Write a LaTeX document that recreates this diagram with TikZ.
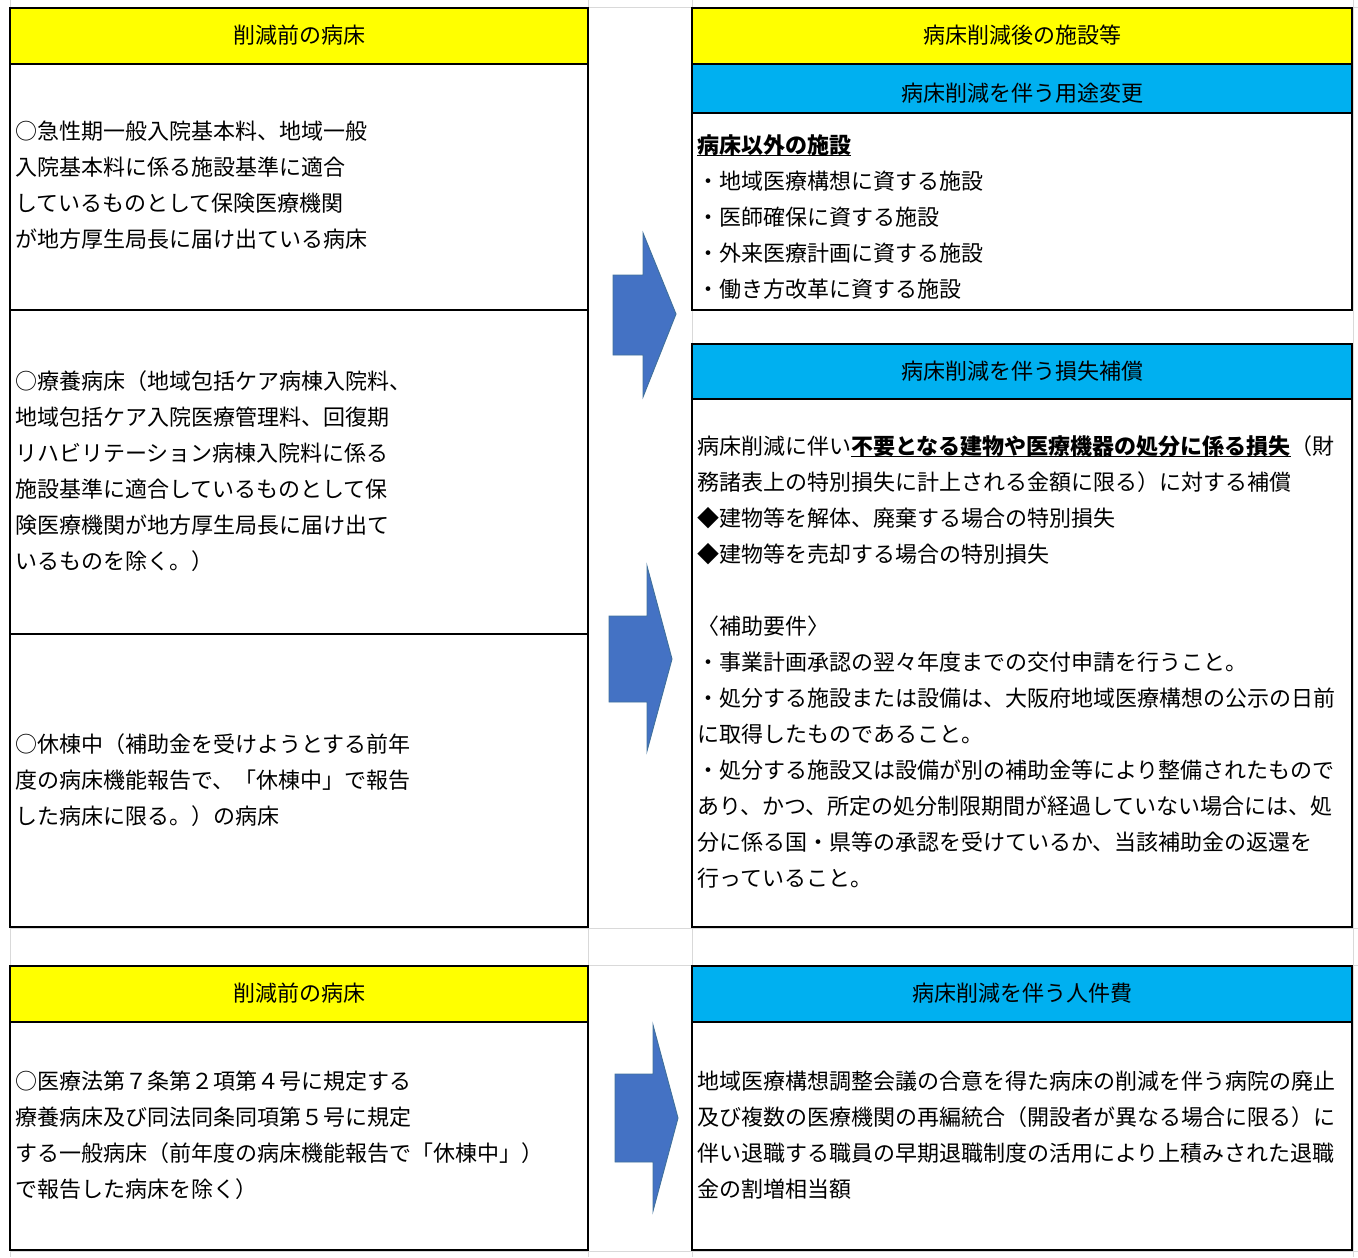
\documentclass[tikz,border=0pt]{standalone}
\usepackage{fontspec}
\setmainfont{Noto Sans CJK JP}
\definecolor{hdryellow}{HTML}{FFFF00}
\definecolor{hdrcyan}{HTML}{00B0F0}
\definecolor{arrowblue}{HTML}{4472C4}
\definecolor{arrowedge}{HTML}{41719C}
\definecolor{gridgray}{HTML}{D9D9D9}
\newcommand\ulbold[1]{\setbox0\hbox{\bfseries #1}\rlap{\rule[-2.4pt]{\wd0}{1.1pt}}\box0}
\begin{document}
\begin{tikzpicture}[x=0.75pt,y=-0.75pt,
  box/.style={draw=black,line width=2pt},
  gridline/.style={draw=gridgray,line width=0.75pt},
  txt/.style={anchor=base west,inner sep=0pt,font=\fontsize{16.5}{20}\selectfont},
  hdr/.style={anchor=base,inner sep=0pt,font=\fontsize{16.5}{20}\selectfont},
  arr/.style={fill=arrowblue,draw=arrowedge,line width=0.7pt,line join=miter}]
\useasboundingbox (0,0) rectangle (1358,1257);
% spreadsheet grid lines
\foreach \gx in {10,588,692,1353} \draw[gridline] (\gx,0) -- (\gx,1257);
\foreach \gy in {7,928,965,1251} \draw[gridline] (10,\gy) -- (1358,\gy);
% ---------- left upper column ----------
\fill[white] (10,8) rectangle (588,927);
\fill[hdryellow] (10,8) rectangle (588,64);
\draw[box] (10,8) rectangle (588,927);
\draw[box] (10,64) -- (588,64);
\draw[box] (10,310) -- (588,310);
\draw[box] (10,634) -- (588,634);
% ---------- right upper column ----------
\fill[white] (692,8) rectangle (1352,310);
\fill[hdryellow] (692,8) rectangle (1352,64);
\fill[hdrcyan] (692,64) rectangle (1352,113);
\draw[box] (692,8) rectangle (1352,310);
\draw[box] (692,64) -- (1352,64);
\draw[box] (692,113) -- (1352,113);
\fill[white] (692,344) rectangle (1352,927);
\fill[hdrcyan] (692,344) rectangle (1352,399);
\draw[box] (692,344) rectangle (1352,927);
\draw[box] (692,399) -- (1352,399);
% ---------- bottom ----------
\fill[white] (10,966) rectangle (588,1250);
\fill[hdryellow] (10,966) rectangle (588,1022);
\draw[box] (10,966) rectangle (588,1250);
\draw[box] (10,1022) -- (588,1022);
\fill[white] (692,966) rectangle (1352,1250);
\fill[hdrcyan] (692,966) rectangle (1352,1022);
\draw[box] (692,966) rectangle (1352,1250);
\draw[box] (692,1022) -- (1352,1022);
% ---------- arrows ----------
\draw[arr] (613,275) -- (643,275) -- (643,233) -- (676,314) -- (643,397) -- (643,355) -- (613,355) -- cycle;
\draw[arr] (609,616) -- (647,616) -- (647,566) -- (672,659) -- (647,751) -- (647,702) -- (609,702) -- cycle;
\draw[arr] (615,1074) -- (653,1074) -- (653,1025) -- (678,1118) -- (653,1211) -- (653,1162) -- (615,1162) -- cycle;
% ---------- headers ----------
\node[hdr] (hL1) at (299,43) {削減前の病床};
\node[hdr] (hR1) at (1022,43) {病床削減後の施設等};
\node[hdr] (hR2) at (1022,101) {病床削減を伴う用途変更};
\node[hdr] (hR3) at (1022,379) {病床削減を伴う損失補償};
\node[hdr] (hL2) at (299,1001) {削減前の病床};
\node[hdr] (hR4) at (1022,1001) {病床削減を伴う人件費};
% ---------- left texts ----------
\foreach \t [count=\i from 0] in {○急性期一般入院基本料、地域一般,入院基本料に係る施設基準に適合,しているものとして保険医療機関,が地方厚生局長に届け出ている病床}
  \node[txt] (la\i) at (15,139+36*\i) {\t};
\foreach \t [count=\i from 0] in {○療養病床（地域包括ケア病棟入院料、,地域包括ケア入院医療管理料、回復期,リハビリテーション病棟入院料に係る,施設基準に適合しているものとして保,険医療機関が地方厚生局長に届け出て,いるものを除く。）}
  \node[txt] (lb\i) at (15,389+36*\i) {\t};
\foreach \t [count=\i from 0] in {○休棟中（補助金を受けようとする前年,度の病床機能報告で、「休棟中」で報告,した病床に限る。）の病床}
  \node[txt] (lc\i) at (15,752+36*\i) {\t};
\foreach \t [count=\i from 0] in {○医療法第７条第２項第４号に規定する,療養病床及び同法同条同項第５号に規定,する一般病床（前年度の病床機能報告で「休棟中」）,で報告した病床を除く）}
  \node[txt] (ld\i) at (15,1089+36*\i) {\t};
% ---------- right texts ----------
\node[txt] (ra0) at (697,153) {\ulbold{病床以外の施設}};
\foreach \t [count=\i from 1] in {・地域医療構想に資する施設,・医師確保に資する施設,・外来医療計画に資する施設,・働き方改革に資する施設}
  \node[txt] (ra\i) at (697,153+36*\i) {\t};
\foreach \t [count=\i from 0] in {{病床削減に伴い\ulbold{不要となる建物や医療機器の処分に係る損失}（財},務諸表上の特別損失に計上される金額に限る）に対する補償,◆建物等を解体、廃棄する場合の特別損失,◆建物等を売却する場合の特別損失}
  \node[txt] (rb\i) at (697,454+36*\i) {\t};
\foreach \t [count=\i from 0] in {〈補助要件〉,・事業計画承認の翌々年度までの交付申請を行うこと。,・処分する施設または設備は、大阪府地域医療構想の公示の日前,に取得したものであること。,・処分する施設又は設備が別の補助金等により整備されたもので,あり、かつ、所定の処分制限期間が経過していない場合には、処,分に係る国・県等の承認を受けているか、当該補助金の返還を,行っていること。}
  \node[txt] (rc\i) at (697,634+36*\i) {\t};
\foreach \t [count=\i from 0] in {地域医療構想調整会議の合意を得た病床の削減を伴う病院の廃止,及び複数の医療機関の再編統合（開設者が異なる場合に限る）に,伴い退職する職員の早期退職制度の活用により上積みされた退職,金の割増相当額}
  \node[txt] (rd\i) at (697,1089+36*\i) {\t};
\end{tikzpicture}
\end{document}
